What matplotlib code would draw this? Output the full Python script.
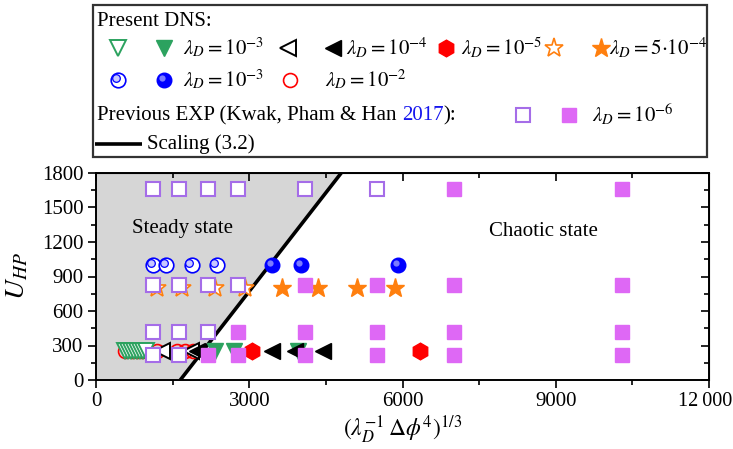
import matplotlib
matplotlib.use("Agg")
import matplotlib.pyplot as plt
import matplotlib.transforms as mtransforms
from matplotlib.patches import Rectangle, Polygon
from matplotlib.ticker import MultipleLocator

plt.rcParams['font.family'] = ['Liberation Serif', 'DejaVu Serif']
plt.rcParams['mathtext.fontset'] = 'stix'

# ---- data ----
# present DNS, all at U_HP ~ 250
dns_u = 250
green_open_x = [560, 620, 680, 740, 800, 860, 920, 980]
green_fill_x = [2330, 2700, 3950]
black_open_x = [1300, 1850]
black_fill_x = [1980, 3440, 3900, 4450]
red_hex_x = [3050, 6350]
red_circ_x = [570, 700, 800, 900, 1000, 1190, 1580, 1740, 1900]
# lambda_D = 5e-4 stars at U_HP = 800
star_u = 800
star_open_x = [1190, 1680, 2330, 2920]
star_fill_x = [3640, 4350, 5100, 5850]
# lambda_D = 1e-3 spheres at U_HP = 1000
ball_u = 1000
ball_open_x = [1120, 1380, 1870, 2360]
ball_fill_x = [3440, 4020, 5920]
# Kwak, Pham & Han 2017 experiments
exp_x = [1120, 1620, 2190, 2780, 4090, 5500, 7000, 10300]
exp_u = [1660, 830, 420, 220]
exp_n_open = [6, 4, 3, 2]   # first n columns are steady (open) in each row
# scaling (3.2) line end points
scal_x = [1650, 4800]
scal_u = [0, 1800]

x_ticks = [0, 3000, 6000, 9000, 12000]
x_ticklabels = ['0', '3000', '6000', '9000', '12\u2009000']

green = '#2ca25f'
orange = '#ff7f0e'
blue = '#0000ff'
red = '#ff0000'
purple_edge = '#a56de8'
purple_fill = '#de68f5'

fig = plt.figure(figsize=(7.33, 4.49), dpi=100)
ax = fig.add_axes([96/733, 1-380/449, 613/733, 207/449])

# steady region
slope = (scal_u[1]-scal_u[0])/(scal_x[1]-scal_x[0])
x_top = scal_x[0] + (1800-scal_u[0])/slope
ax.add_patch(Polygon([(0, 0), (scal_x[0], 0), (x_top, 1800), (0, 1800)],
                     closed=True, facecolor='#d6d6d6', edgecolor='none', zorder=0))
ax.plot(scal_x, scal_u, color='black', lw=2.6, zorder=3, solid_capstyle='butt')

st = dict(
    g_open=dict(marker='v', ms=11, mfc='white', mec=green, mew=1.4, ls='none'),
    g_fill=dict(marker='v', ms=11, mfc=green, mec=green, ls='none'),
    k_open=dict(marker='<', ms=11, mfc='white', mec='black', mew=1.4, ls='none'),
    k_fill=dict(marker='<', ms=11, mfc='black', mec='black', ls='none'),
    hexa=dict(marker='h', ms=12, mfc=red, mec=red, ls='none'),
    s_open=dict(marker='*', ms=14, mfc='white', mec=orange, mew=1.2, ls='none'),
    s_fill=dict(marker='*', ms=14, mfc=orange, mec=orange, ls='none'),
    circ=dict(marker='o', ms=10, mfc='none', mec=red, mew=1.2, ls='none'),
    sq_open=dict(marker='s', ms=10, mfc='white', mec=purple_edge, mew=1.5, ls='none'),
    sq_fill=dict(marker='s', ms=10, mfc=purple_fill, mec=purple_fill, ls='none'),
)


def ball(axx, xs, ys, filled, z=4):
    tr = mtransforms.offset_copy(axx.transData, fig=fig, x=-1.5, y=1.5, units='points')
    if filled:
        axx.plot(xs, ys, marker='o', ms=10.5, mfc=blue, mec=blue, ls='none', zorder=z)
        axx.plot(xs, ys, marker='o', ms=4.5, mfc='#9c9cff', mec='none', ls='none',
                 alpha=0.8, transform=tr, zorder=z)
    else:
        axx.plot(xs, ys, marker='o', ms=10.5, mfc='white', mec=blue, mew=1.2, ls='none', zorder=z)
        axx.plot(xs, ys, marker='o', ms=5.5, mfc='#c8c8ff', mec=blue, mew=0.9, ls='none',
                 transform=tr, zorder=z)


ax.plot(red_circ_x, [dns_u]*len(red_circ_x), zorder=4, **st['circ'])
ax.plot(green_open_x, [dns_u]*len(green_open_x), zorder=4, **st['g_open'])
ax.plot(black_open_x, [dns_u]*len(black_open_x), zorder=4, **st['k_open'])
ax.plot(green_fill_x, [dns_u]*len(green_fill_x), zorder=4, **st['g_fill'])
ax.plot(black_fill_x, [dns_u]*len(black_fill_x), zorder=4, **st['k_fill'])
ax.plot(red_hex_x, [dns_u]*len(red_hex_x), zorder=4, **st['hexa'])
ax.plot(star_open_x, [star_u]*len(star_open_x), zorder=4, **st['s_open'])
ax.plot(star_fill_x, [star_u]*len(star_fill_x), zorder=4, **st['s_fill'])
ball(ax, ball_open_x, [ball_u]*len(ball_open_x), False)
ball(ax, ball_fill_x, [ball_u]*len(ball_fill_x), True)

for u, n in zip(exp_u, exp_n_open):
    ax.plot(exp_x[:n], [u]*n, zorder=5, **st['sq_open'])
    ax.plot(exp_x[n:], [u]*(len(exp_x)-n), zorder=5, **st['sq_fill'])

ax.text(1700, 1315, 'Steady state', fontsize=15, ha='center', va='center', zorder=6)
ax.text(8750, 1290, 'Chaotic state', fontsize=15, ha='center', va='center', zorder=6)

ax.set_xlim(0, 12000)
ax.set_ylim(0, 1800)
ax.set_xticks(x_ticks)
ax.set_xticklabels(x_ticklabels)
ax.set_yticks(range(0, 1801, 300))
ax.xaxis.set_minor_locator(MultipleLocator(1500))
ax.yaxis.set_minor_locator(MultipleLocator(150))
ax.tick_params(which='both', direction='out', labelsize=15, width=1.2, pad=3)
ax.tick_params(which='major', length=6)
ax.tick_params(which='minor', length=3.5)
for sp in ax.spines.values():
    sp.set_linewidth(1.4)
# pull the last x label a little inside the figure
last = ax.get_xticklabels()[-1]
last.set_fontsize(14.5)
last.set_transform(last.get_transform() +
                   mtransforms.ScaledTranslation(-4/100, 0, fig.dpi_scale_trans))

secx = ax.secondary_xaxis('top')
secx.set_xticks(x_ticks)
secx.xaxis.set_minor_locator(MultipleLocator(1500))
secx.tick_params(which='both', direction='in', labeltop=False, width=1.2)
secx.tick_params(which='major', length=6)
secx.tick_params(which='minor', length=3.5)
secy = ax.secondary_yaxis('right')
secy.set_yticks(range(0, 1801, 300))
secy.yaxis.set_minor_locator(MultipleLocator(150))
secy.tick_params(which='both', direction='in', labelright=False, width=1.2)
secy.tick_params(which='major', length=6)
secy.tick_params(which='minor', length=3.5)

ax.set_xlabel(r'$(\lambda_D^{-1}\,\Delta\phi^4)^{1/3}$', fontsize=17, labelpad=2)
ax.set_ylabel(r'$U_{HP}$', fontsize=20, labelpad=8)

# ---- legend drawn in pixel coordinates ----
lax = fig.add_axes([0, 0, 1, 1])
lax.set_xlim(0, 733)
lax.set_ylim(449, 0)
lax.axis('off')
lax.patch.set_alpha(0)
lax.add_patch(Rectangle((93, 5), 614, 152, fill=False, edgecolor='#333333', lw=1.6))

fs = 15
lax.text(97, 21, 'Present DNS:', fontsize=fs, va='center')

r2 = 48
lax.plot([118], [r2], **st['g_open'])
lax.plot([164], [r2], **st['g_fill'])
lax.text(183, r2, r'$\lambda_D = 10^{-3}$', fontsize=fs, va='center')
lax.plot([288], [r2], **st['k_open'])
lax.plot([333], [r2], **st['k_fill'])
lax.text(346, r2, r'$\lambda_D = 10^{-4}$', fontsize=fs, va='center')
lax.plot([446], [r2], **st['hexa'])
lax.text(461, r2, r'$\lambda_D = 10^{-5}$', fontsize=fs, va='center')
lax.plot([554], [r2], **st['s_open'])
lax.plot([601], [r2], **st['s_fill'])
lax.text(609, r2, r'$\lambda_D = 5{\cdot}10^{-4}$', fontsize=fs, va='center')

r3 = 80
ball(lax, [118], [r3], False)
ball(lax, [164], [r3], True)
lax.text(183, r3, r'$\lambda_D = 10^{-3}$', fontsize=fs, va='center')
lax.plot([290], [r3], **st['circ'])
lax.text(325, r3, r'$\lambda_D = 10^{-2}$', fontsize=fs, va='center')

r4 = 115
t1 = lax.text(97, r4 + 5, 'Previous EXP (Kwak, Pham & Han ', fontsize=fs, va='baseline')
fig.canvas.draw()
rend = fig.canvas.get_renderer()
bb = t1.get_window_extent(rend)
t2 = lax.text(bb.x1, r4 + 5, '2017', fontsize=fs, va='baseline', color='#1515ee')
bb2 = t2.get_window_extent(rend)
lax.text(bb2.x1, r4 + 5, '):', fontsize=fs, va='baseline')
lax.plot([523], [r4], **st['sq_open'])
lax.plot([569], [r4], **st['sq_fill'])
lax.text(592, r4, r'$\lambda_D = 10^{-6}$', fontsize=fs, va='center')

r5 = 144
lax.plot([95, 142], [r5, r5], color='black', lw=2.6, solid_capstyle='butt')
lax.text(147, r5, 'Scaling (3.2)', fontsize=fs, va='center')

fig.savefig('out.png', dpi=100, facecolor='white')
